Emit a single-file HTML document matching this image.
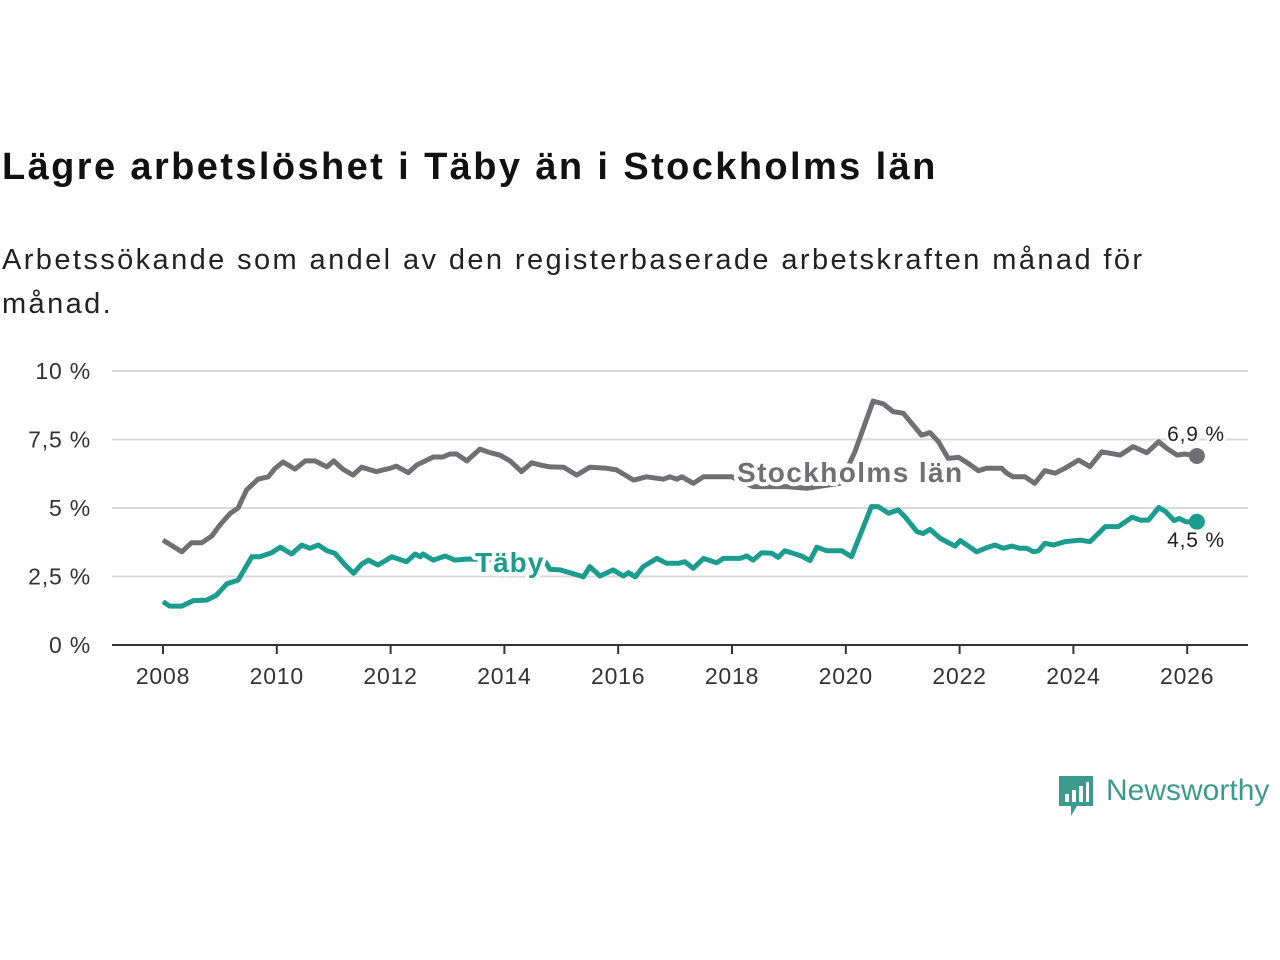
<!DOCTYPE html>
<html><head><meta charset="utf-8">
<style>
body{margin:0;background:#fff;width:1280px;height:960px;overflow:hidden;font-family:"Liberation Sans",sans-serif;}
h1{position:absolute;left:2px;top:146px;margin:0;font-size:38px;font-weight:bold;color:#111;letter-spacing:2.4px}
.sub{position:absolute;left:2px;top:238px;margin:0;font-size:29px;line-height:44px;color:#222;width:1270px;letter-spacing:2.4px}
svg{position:absolute;left:0;top:0}
</style></head><body>
<h1>Lägre arbetslöshet i Täby än i Stockholms län</h1>
<p class="sub">Arbetssökande som andel av den registerbaserade arbetskraften månad för<br>månad.</p>
<svg id="chart" width="1280" height="960"></svg>
<div style="position:absolute;left:1059px;top:774px;display:flex;align-items:center;">
<svg width="36" height="44" style="position:static"><path d="M0 2h34v30h-16l-6 10v-10h-12z" fill="#3d9a8e"/><rect x="6" y="20" width="4" height="8" fill="#fff"/><rect x="13" y="16" width="4" height="12" fill="#fff"/><rect x="20" y="12" width="4" height="16" fill="#fff"/><rect x="27" y="8" width="3" height="20" fill="#fff"/></svg>
<span style="font-size:30px;color:#3d9a8e;margin-left:11px;margin-top:-10px">Newsworthy</span></div>
<script>
const yTicks=[0,2.5,5,7.5,10];
const yTickLabels=["0 %","2,5 %","5 %","7,5 %","10 %"];
const xTicks=[2008,2010,2012,2014,2016,2018,2020,2022,2024,2026];
const sthlmT=[2008.0,2008.33,2008.5,2008.68,2008.86,2009.0,2009.18,2009.32,2009.47,2009.67,2009.85,2009.97,2010.11,2010.32,2010.5,2010.67,2010.88,2011.0,2011.16,2011.34,2011.49,2011.75,2011.99,2012.1,2012.31,2012.46,2012.75,2012.92,2013.04,2013.16,2013.34,2013.57,2013.75,2013.92,2014.1,2014.3,2014.48,2014.63,2014.8,2015.04,2015.27,2015.5,2015.8,2015.97,2016.27,2016.5,2016.79,2016.91,2017.03,2017.12,2017.32,2017.5,2017.82,2018.0,2018.37,2018.96,2019.31,2019.9,2020.16,2020.48,2020.66,2020.83,2021.01,2021.33,2021.48,2021.63,2021.8,2021.98,2022.15,2022.33,2022.47,2022.74,2022.83,2022.94,2023.15,2023.32,2023.5,2023.68,2023.85,2024.09,2024.29,2024.5,2024.82,2025.05,2025.29,2025.5,2025.64,2025.82,2025.96,2026.17];
const sthlmV=[3.83,3.4,3.73,3.73,3.98,4.38,4.8,5.0,5.66,6.05,6.14,6.45,6.68,6.42,6.72,6.72,6.5,6.72,6.42,6.2,6.49,6.33,6.45,6.53,6.29,6.57,6.86,6.86,6.97,6.97,6.72,7.15,7.02,6.93,6.72,6.33,6.65,6.57,6.5,6.49,6.2,6.49,6.45,6.39,6.02,6.14,6.05,6.14,6.05,6.14,5.9,6.14,6.14,6.14,5.78,5.78,5.72,5.9,7.05,8.9,8.8,8.52,8.46,7.66,7.75,7.42,6.81,6.85,6.63,6.36,6.45,6.45,6.27,6.14,6.14,5.9,6.36,6.27,6.45,6.75,6.51,7.05,6.93,7.24,7.02,7.42,7.18,6.93,6.97,6.9];
const tabyT=[2008.0,2008.12,2008.33,2008.53,2008.77,2008.94,2009.12,2009.32,2009.56,2009.7,2009.91,2010.06,2010.26,2010.44,2010.58,2010.73,2010.88,2011.02,2011.2,2011.35,2011.49,2011.61,2011.78,2012.02,2012.28,2012.43,2012.52,2012.57,2012.75,2012.96,2013.13,2013.36,2014.0,2014.68,2014.8,2014.98,2015.15,2015.39,2015.5,2015.68,2015.91,2016.09,2016.18,2016.3,2016.44,2016.68,2016.85,2017.06,2017.17,2017.32,2017.5,2017.73,2017.85,2018.14,2018.26,2018.37,2018.52,2018.7,2018.81,2018.93,2019.11,2019.22,2019.37,2019.49,2019.66,2019.93,2020.1,2020.45,2020.57,2020.75,2020.92,2021.04,2021.25,2021.36,2021.48,2021.66,2021.92,2022.01,2022.3,2022.45,2022.62,2022.77,2022.92,2023.06,2023.18,2023.3,2023.39,2023.5,2023.65,2023.85,2024.12,2024.29,2024.56,2024.79,2025.03,2025.18,2025.32,2025.5,2025.62,2025.77,2025.86,2025.98,2026.17];
const tabyV=[1.58,1.42,1.42,1.62,1.64,1.82,2.23,2.37,3.22,3.22,3.37,3.57,3.32,3.65,3.53,3.65,3.44,3.35,2.92,2.62,2.95,3.1,2.92,3.22,3.04,3.32,3.22,3.32,3.1,3.25,3.1,3.14,3.1,3.18,2.76,2.74,2.64,2.49,2.86,2.52,2.74,2.52,2.64,2.49,2.86,3.16,2.98,2.98,3.04,2.8,3.16,3.0,3.16,3.16,3.25,3.1,3.37,3.35,3.2,3.44,3.32,3.25,3.08,3.57,3.44,3.44,3.22,5.05,5.05,4.81,4.93,4.68,4.14,4.07,4.22,3.89,3.61,3.81,3.4,3.53,3.65,3.53,3.61,3.53,3.53,3.4,3.44,3.71,3.65,3.77,3.83,3.77,4.32,4.32,4.66,4.56,4.56,5.02,4.87,4.54,4.62,4.5,4.5];
const NS="http://www.w3.org/2000/svg";
const svg=document.getElementById('chart');
const X=t=>163+(t-2008)*56.9;
const Y=v=>645-v*27.4;
function el(tag,attrs,parent){const e=document.createElementNS(NS,tag);for(const k in attrs)e.setAttribute(k,attrs[k]);(parent||svg).appendChild(e);return e;}
yTicks.forEach((v,i)=>{
  if(v>0){const g=el('line',{x1:112,x2:1248,y1:Y(v),y2:Y(v),stroke:'#d9d9d9','stroke-width':2});
  
  }
  const t=el('text',{x:91,y:Y(v)+8,'text-anchor':'end','font-size':23,'letter-spacing':0.8,fill:'#333'});t.textContent=yTickLabels[i];
  
  
});
const ax=el('line',{x1:112,x2:1248,y1:645,y2:645,stroke:'#333','stroke-width':2});


xTicks.forEach(yr=>{
  const tk=el('line',{x1:X(yr),x2:X(yr),y1:645,y2:654,stroke:'#333','stroke-width':2});
  
  
  const t=el('text',{x:X(yr),y:684,'text-anchor':'middle','font-size':23,'letter-spacing':0.8,fill:'#333'});t.textContent=yr;
  
  
});
function line(T,V,color,name){
  const d=T.map((t,i)=>(i?'L':'M')+X(t).toFixed(1)+' '+Y(V[i]).toFixed(1)).join(' ');
  const p=el('path',{d:d,fill:'none',stroke:color,'stroke-width':5,'stroke-linejoin':'round'});
  
  
  const n=T.length-1;
  const c=el('circle',{cx:X(T[n]),cy:Y(V[n]),r:8,fill:color});
  
  
}
line(sthlmT,sthlmV,'#707074','stockholm');
line(tabyT,tabyV,'#1a9c8e','taby');
function label(txt,x,y,color,name,anchor,bold,size,ls){
  const t=el('text',{x:x,y:y,'font-size':size,'font-weight':bold?'bold':'normal',fill:color,'text-anchor':anchor,'letter-spacing':ls,stroke:'#fff','stroke-width':bold?8:6,'paint-order':'stroke','stroke-linejoin':'round'});
  t.textContent=txt;
  
  
}
label('Stockholms län',737,482,'#707074','stockholm-label','start',true,28,1.4);
label('Täby',475,572,'#1a9c8e','taby-label','start',true,28,1);
const nS=sthlmV.length-1,nT=tabyV.length-1;
label(sthlmV[nS].toFixed(1).replace('.',',')+' %',1196,441,'#222','stockholm-value-label','middle',false,21,0.8);
label(tabyV[nT].toFixed(1).replace('.',',')+' %',1196,547,'#222','taby-value-label','middle',false,21,0.8);
</script>
</body></html>
